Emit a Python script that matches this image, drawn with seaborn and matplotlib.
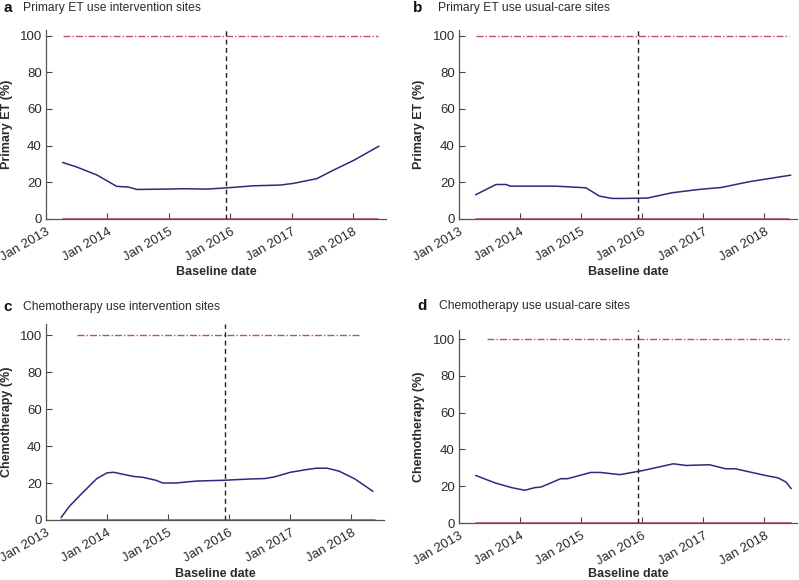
import matplotlib
matplotlib.use("Agg")
import matplotlib.pyplot as plt
import matplotlib.dates as mdates
import seaborn as sns
import pandas as pd

# ---------------- data ----------------
a_dates = ["2013-04-10", "2013-07-01", "2013-10-30", "2014-02-25", "2014-05-05", "2014-06-25",
           "2014-12-20", "2015-03-30", "2015-08-15", "2015-12-15", "2016-05-20", "2016-10-25",
           "2017-01-10", "2017-05-30", "2017-09-05", "2018-01-05", "2018-06-03"]
a_vals = [30.8, 28.4, 24.0, 17.8, 17.4, 16.1, 16.3, 16.5, 16.3, 17.0, 18.1, 18.5,
          19.4, 22.0, 26.6, 32.0, 39.7]

b_dates = ["2013-04-10", "2013-08-10", "2013-10-10", "2013-11-05", "2014-03-15", "2014-08-01",
           "2014-10-01", "2015-01-30", "2015-04-20", "2015-07-05", "2015-09-05", "2016-02-01",
           "2016-06-28", "2016-12-05", "2017-04-20", "2017-10-01", "2018-06-08"]
b_vals = [13.2, 18.8, 18.8, 17.9, 17.9, 17.9, 17.6, 17.0, 12.5, 11.2, 11.2, 11.4,
          14.3, 16.1, 17.2, 20.3, 23.9]

c_dates = ["2013-04-01", "2013-05-20", "2013-07-26", "2013-11-01", "2014-01-01", "2014-02-10",
           "2014-06-05", "2014-08-02", "2014-10-20", "2014-11-30", "2015-02-18", "2015-05-05",
           "2015-07-01", "2015-12-05", "2016-05-10", "2016-07-30", "2016-09-27", "2017-01-01",
           "2017-04-10", "2017-06-05", "2017-08-10", "2017-10-20", "2018-01-22", "2018-05-10"]
c_vals = [1.3, 7.3, 13.6, 22.4, 25.5, 25.8, 23.6, 23.1, 21.5, 20.0, 20.0, 20.7,
          21.1, 21.5, 22.2, 22.4, 23.3, 25.8, 27.3, 28.0, 28.0, 26.4, 22.2, 15.5]

d_dates = ["2013-04-10", "2013-08-08", "2013-11-14", "2014-01-30", "2014-03-28", "2014-05-08",
           "2014-09-01", "2014-10-12", "2015-02-28", "2015-04-27", "2015-08-22", "2016-01-08",
           "2016-07-05", "2016-09-20", "2017-02-06", "2017-05-15", "2017-07-12", "2018-01-05",
           "2018-03-25", "2018-05-10", "2018-06-10"]
d_vals = [25.9, 21.7, 19.2, 17.8, 19.2, 19.6, 24.1, 24.1, 27.5, 27.5, 26.3, 28.6,
          32.2, 31.3, 31.7, 29.5, 29.5, 25.9, 24.5, 22.3, 18.7]

# reference lines (start, end) and their levels
upper_ranges = [("2013-04-10", "2018-05-27"), ("2013-04-10", "2018-05-30"),
                ("2013-07-08", "2018-02-17"), ("2013-06-17", "2018-05-28")]
lower_ranges = [("2013-04-10", "2018-05-27"), ("2013-04-10", "2018-05-30"),
                ("2013-04-01", "2018-05-20"), ("2013-04-10", "2018-06-10")]
upper_level = 100
lower_level = 0
intervention_date = "2015-12-05"

letters = ["a", "b", "c", "d"]
titles = ["Primary ET use intervention sites", "Primary ET use usual-care sites",
          "Chemotherapy use intervention sites", "Chemotherapy use usual-care sites"]
ylabels = ["Primary ET (%)", "Primary ET (%)", "Chemotherapy (%)", "Chemotherapy (%)"]
xlabel = "Baseline date"
yticks = [0, 20, 40, 60, 80, 100]
xticks = ["2013-01-01", "2014-01-01", "2015-01-01", "2016-01-01", "2017-01-01", "2018-01-01"]
xlim = ("2013-01-01", "2018-07-15")
ylims = [103, 103, 106, 105]

series = [(a_dates, a_vals), (b_dates, b_vals), (c_dates, c_vals), (d_dates, d_vals)]

# ---------------- style ----------------
sns.set_style("ticks")
plt.rcParams["font.family"] = ["Liberation Sans", "DejaVu Sans"]
TXT = "#2b2b2b"
BLUE = "#2b2b7c"
RED = "#c0505c"

fig = plt.figure(figsize=(7.99, 5.8), dpi=100)
W, H = 799, 580
boxes = [(46, 386, 219), (459, 797, 219), (46, 384, 520), (459, 797, 523)]
tops = [30, 30, 324, 330]
title_pos = [(3, 8, 23), (413, 8, 438), (3, 307, 23), (417, 306, 439)]
ylab_x = [7, 419, 7, 419]
xlab_y = [272, 272, 574, 574]

for i in range(4):
    l, r, b = boxes[i]
    t = tops[i]
    ax = fig.add_axes([l / W, 1 - b / H, (r - l) / W, (b - t) / H])
    dts, vals = series[i]
    df = pd.DataFrame({"date": pd.to_datetime(dts), "value": vals})
    up = pd.DataFrame({"date": pd.to_datetime(list(upper_ranges[i])),
                       "value": [upper_level, upper_level]})
    lo = pd.DataFrame({"date": pd.to_datetime(list(lower_ranges[i])),
                       "value": [lower_level, lower_level]})
    sns.lineplot(data=up, x="date", y="value", ax=ax, color=RED, lw=1.0,
                 linestyle=(0, (5, 1.5, 1, 1.5)))
    sns.lineplot(data=lo, x="date", y="value", ax=ax, color=RED, lw=1.2)
    sns.lineplot(data=df, x="date", y="value", ax=ax, color=BLUE, lw=1.1)
    ax.axvline(pd.Timestamp(intervention_date), color="#222222", lw=1.0,
               linestyle=(0, (3.5, 2.5)))

    ax.set_xlim(pd.Timestamp(xlim[0]), pd.Timestamp(xlim[1]))
    ax.set_ylim(0, ylims[i])
    ax.set_yticks(yticks)
    ax.set_xticks(pd.to_datetime(xticks))
    ax.xaxis.set_major_formatter(mdates.DateFormatter("Jan %Y"))
    for lab in ax.get_xticklabels():
        lab.set_rotation(30)
        lab.set_ha("right")
        lab.set_rotation_mode("anchor")
    ax.tick_params(direction="in", length=4, width=0.8, color="#444444",
                   labelsize=9.5, labelcolor=TXT, pad=3)
    ax.tick_params(axis="x", pad=5)
    sns.despine(ax=ax)
    for s in ("left", "bottom"):
        ax.spines[s].set_color("#555555")
        ax.spines[s].set_linewidth(0.9)
    ax.set_xlabel("")
    ax.set_ylabel("")
    fig.text(((l + r) / 2) / W, 1 - xlab_y[i] / H, xlabel, ha="center", va="center",
             fontsize=9, fontweight="bold", color=TXT)
    fig.text(ylab_x[i] / W, 1 - ((t + b) / 2) / H, ylabels[i], rotation=90,
             ha="center", va="center", fontsize=9, fontweight="bold", color=TXT)

    lx, ly, tx = title_pos[i]
    fig.text(lx / W, 1 - ly / H, letters[i], fontsize=11, fontweight="bold",
             color="#111111", ha="left", va="center")
    fig.text(tx / W, 1 - ly / H, titles[i], fontsize=8.7, color=TXT,
             ha="left", va="center")

fig.savefig("out.png", dpi=100)
